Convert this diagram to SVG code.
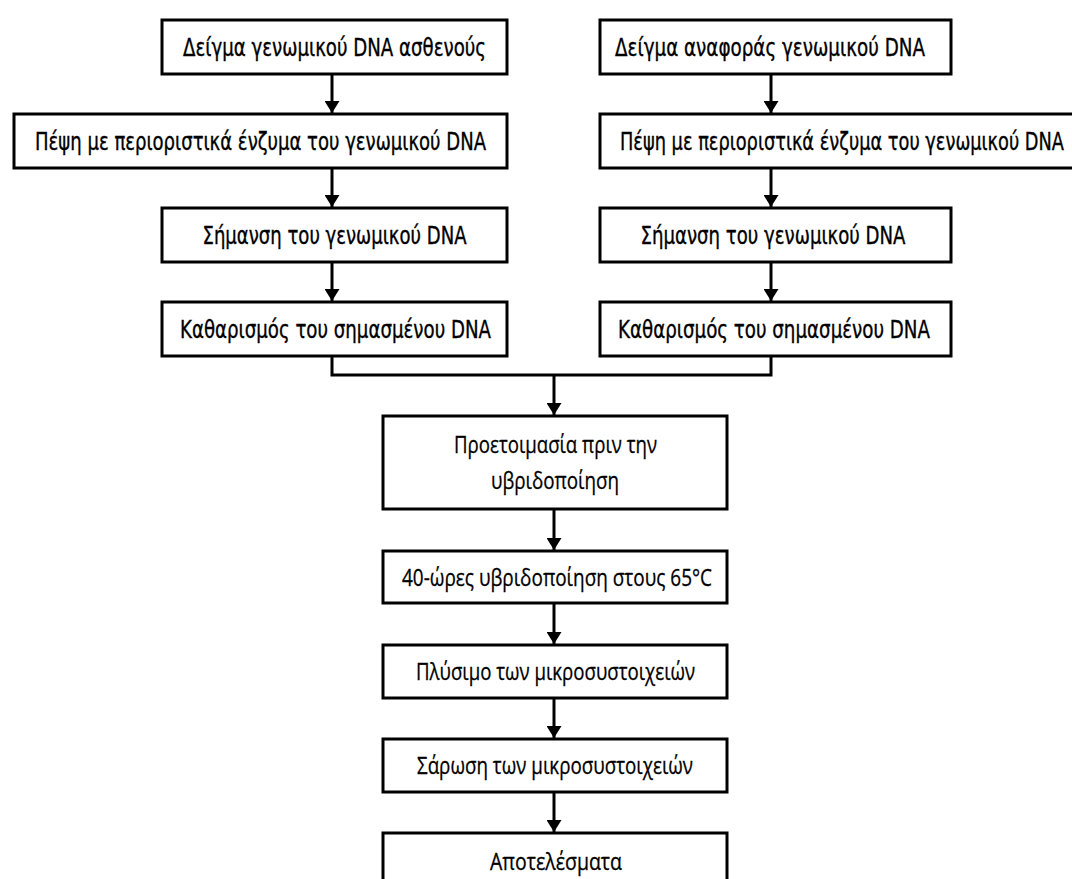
<svg xmlns="http://www.w3.org/2000/svg" width="1072" height="879" viewBox="0 0 1072 879">
<style>
.box{fill:#fff;stroke:#000;stroke-width:3}
.n{font-family:"Liberation Sans Narrow","DejaVu Sans Condensed","Liberation Sans",sans-serif;font-size:25px;fill:#000;stroke:#000;stroke-width:0.35;text-anchor:middle}
.c{font-family:"Open Sans","Noto Sans","Liberation Sans",sans-serif;font-size:24px;fill:#000;stroke:#000;stroke-width:0.3;text-anchor:middle}
.ln{fill:none;stroke:#000;stroke-width:3}
</style>
<defs>
<marker id="ah" markerWidth="12" markerHeight="15" refX="12" refY="7.5" orient="auto" markerUnits="userSpaceOnUse" viewBox="0 0 12 15">
<path d="M0,0 L12,7.5 L0,15 Z" fill="#000"/>
</marker>
</defs>
<rect width="1072" height="879" fill="#fff"/>
<g id="connectors">
<line class="ln" x1="332" y1="74" x2="332" y2="113" marker-end="url(#ah)"/>
<line class="ln" x1="332" y1="168" x2="332" y2="207" marker-end="url(#ah)"/>
<line class="ln" x1="332" y1="262" x2="332" y2="301" marker-end="url(#ah)"/>
<line class="ln" x1="771" y1="74" x2="771" y2="113" marker-end="url(#ah)"/>
<line class="ln" x1="771" y1="168" x2="771" y2="207" marker-end="url(#ah)"/>
<line class="ln" x1="771" y1="262" x2="771" y2="301" marker-end="url(#ah)"/>
<path class="ln" d="M332,356 V375 H771 V356"/>
<line class="ln" x1="554" y1="375" x2="554" y2="415" marker-end="url(#ah)"/>
<line class="ln" x1="554" y1="509" x2="554" y2="550" marker-end="url(#ah)"/>
<line class="ln" x1="554" y1="603" x2="554" y2="644" marker-end="url(#ah)"/>
<line class="ln" x1="554" y1="698" x2="554" y2="738" marker-end="url(#ah)"/>
<line class="ln" x1="554" y1="792" x2="554" y2="832" marker-end="url(#ah)"/>
</g>
<g id="L1"><rect class="box" x="162" y="20" width="345" height="54"/><text class="n" x="334.5" y="56" textLength="303" lengthAdjust="spacingAndGlyphs">Δείγμα γενωμικού DNA ασθενούς</text></g>
<g id="L2"><rect class="box" x="14" y="114" width="493" height="54"/><text class="n" x="260.5" y="150" textLength="451" lengthAdjust="spacingAndGlyphs">Πέψη με περιοριστικά ένζυμα του γενωμικού DNA</text></g>
<g id="L3"><rect class="box" x="162" y="208" width="345" height="54"/><text class="n" x="334.5" y="244" textLength="264" lengthAdjust="spacingAndGlyphs">Σήμανση του γενωμικού DNA</text></g>
<g id="L4"><rect class="box" x="162" y="302" width="345" height="54"/><text class="n" x="335.5" y="338" textLength="311" lengthAdjust="spacingAndGlyphs">Καθαρισμός του σημασμένου DNA</text></g>
<g id="R1"><rect class="box" x="600" y="20" width="351" height="54"/><text class="n" x="770" y="56" textLength="310" lengthAdjust="spacingAndGlyphs">Δείγμα αναφοράς γενωμικού DNA</text></g>
<g id="R2"><rect class="box" x="600" y="114" width="490" height="54"/><text class="n" x="842" y="150" textLength="444" lengthAdjust="spacingAndGlyphs">Πέψη με περιοριστικά ένζυμα του γενωμικού DNA</text></g>
<g id="R3"><rect class="box" x="600" y="208" width="351" height="54"/><text class="n" x="773" y="244" textLength="265" lengthAdjust="spacingAndGlyphs">Σήμανση του γενωμικού DNA</text></g>
<g id="R4"><rect class="box" x="600" y="302" width="351" height="54"/><text class="n" x="774" y="338" textLength="312" lengthAdjust="spacingAndGlyphs">Καθαρισμός του σημασμένου DNA</text></g>
<g id="C1"><rect class="box" x="383" y="416" width="344" height="93"/><text class="c" x="555.5" y="453" textLength="203" lengthAdjust="spacingAndGlyphs">Προετοιμασία πριν την</text><text class="c" x="555" y="489" textLength="128" lengthAdjust="spacingAndGlyphs">υβριδοποίηση</text></g>
<g id="C2"><rect class="box" x="383" y="551" width="344" height="52"/><text class="c" x="557" y="586" textLength="310" lengthAdjust="spacingAndGlyphs">40-ώρες υβριδοποίηση στους 65°C</text></g>
<g id="C3"><rect class="box" x="383" y="645" width="344" height="53"/><text class="c" x="555.5" y="680" textLength="279" lengthAdjust="spacingAndGlyphs">Πλύσιμο των μικροσυστοιχειών</text></g>
<g id="C4"><rect class="box" x="383" y="739" width="344" height="53"/><text class="c" x="555" y="774" textLength="276" lengthAdjust="spacingAndGlyphs">Σάρωση των μικροσυστοιχειών</text></g>
<g id="C5"><rect class="box" x="383" y="833" width="344" height="60"/><text class="c" x="556" y="870" textLength="132" lengthAdjust="spacingAndGlyphs">Αποτελέσματα</text></g>
</svg>
